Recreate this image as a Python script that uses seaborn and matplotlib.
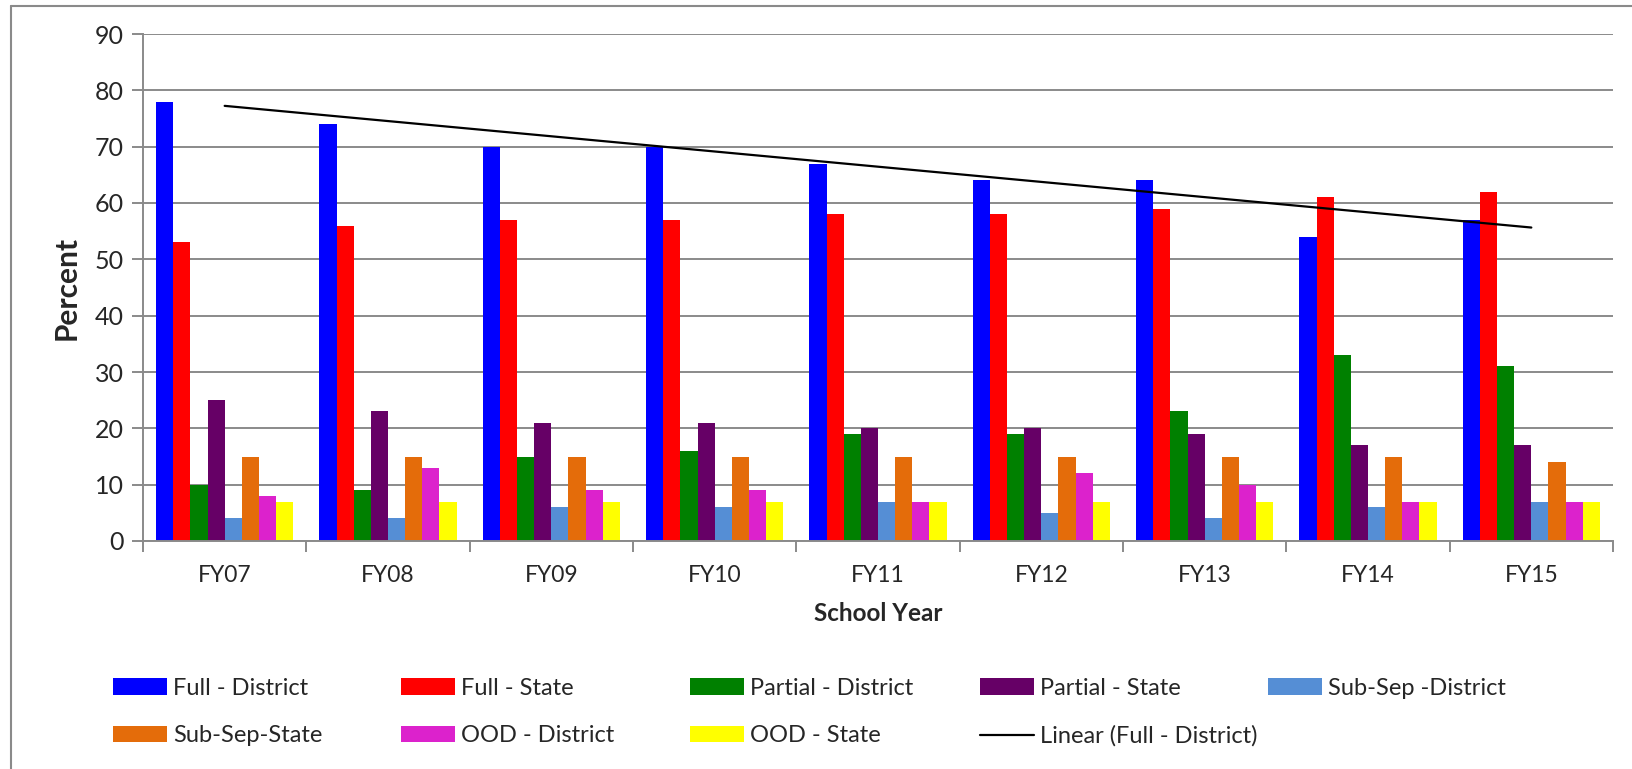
import matplotlib
matplotlib.use("Agg")
import matplotlib.pyplot as plt
import matplotlib.lines as mlines
import seaborn as sns
import numpy as np
import pandas as pd

years = ["FY07", "FY08", "FY09", "FY10", "FY11", "FY12", "FY13", "FY14", "FY15"]
full_district = [78, 74, 70, 70, 67, 64, 64, 54, 57]
full_state = [53, 56, 57, 57, 58, 58, 59, 61, 62]
partial_district = [10, 9, 15, 16, 19, 19, 23, 33, 31]
partial_state = [25, 23, 21, 21, 20, 20, 19, 17, 17]
subsep_district = [4, 4, 6, 6, 7, 5, 4, 6, 7]
subsep_state = [15, 15, 15, 15, 15, 15, 15, 15, 14]
ood_district = [8, 13, 9, 9, 7, 12, 10, 7, 7]
ood_state = [7, 7, 7, 7, 7, 7, 7, 7, 7]

series_names = ["Full - District", "Full - State", "Partial - District", "Partial - State",
                "Sub-Sep -District", "Sub-Sep-State", "OOD - District", "OOD - State"]
series_vals = [full_district, full_state, partial_district, partial_state,
               subsep_district, subsep_state, ood_district, ood_state]
colors = ["#0000FF", "#FF0000", "#008000", "#660066", "#558ED5", "#E46C0A", "#DC22CC", "#FFFF00"]

rows = []
for nm, vals in zip(series_names, series_vals):
    for yr, v in zip(years, vals):
        rows.append({"year": yr, "series": nm, "pct": v})
df = pd.DataFrame(rows)

sns.set_style("white")
plt.rcParams['font.family'] = ['Lato', 'DejaVu Sans']

W, H = 1633, 769
fig = plt.figure(figsize=(W / 100, H / 100), dpi=100)
ax = fig.add_axes([143 / W, 1 - 541 / H, (1613 - 143) / W, (541 - 34) / H])

grid_c = "#8a8a8a"
ax.set_axisbelow(True)
ax.yaxis.grid(True, color=grid_c, lw=1.4)
sns.barplot(data=df, x="year", y="pct", hue="series", hue_order=series_names,
            palette=colors, width=0.84, gap=0, saturation=1, linewidth=0, ax=ax)

# linear trendline of Full - District
xs = np.arange(len(years))
coef = np.polyfit(xs, full_district, 1)
ax.plot(xs, np.polyval(coef, xs), color="black", lw=1.6, label="Linear (Full - District)", zorder=5)

ax.set_ylim(0, 90)
ax.set_xlim(-0.5, len(years) - 0.5)
ax.set_yticks(range(0, 91, 10))
ax.set_xticks(np.arange(-0.5, len(years), 1), minor=True)
ax.tick_params(axis="x", which="major", length=0, pad=17, labelsize=16.5)
ax.tick_params(axis="x", which="minor", length=8, color=grid_c, width=1.4, direction="out")
ax.tick_params(axis="y", length=8, color=grid_c, width=1.4, direction="out", pad=6, labelsize=18)
ax.tick_params(bottom=True, left=True, which="both")
for s in ["top", "right"]:
    ax.spines[s].set_visible(False)
for s in ["left", "bottom"]:
    ax.spines[s].set_color(grid_c)
    ax.spines[s].set_linewidth(1.4)
ax.set_xlabel("School Year", fontsize=17.5, fontweight="bold", labelpad=12)
ax.set_ylabel("Percent", fontsize=21.5, fontweight="bold", labelpad=10)

handles, labels = ax.get_legend_handles_labels()
ax.get_legend().remove()
hmap = dict(zip(labels, handles))
order = series_names + ["Linear (Full - District)"]
cols_x = [113, 401, 690, 980, 1268]
for c, x0 in enumerate(cols_x):
    items = [order[c]] + ([order[c + 5]] if c + 5 < len(order) else [])
    fig.legend([hmap[i] for i in items], items, loc="upper left",
               bbox_to_anchor=(x0 / W, 1 - 678 / H), frameon=False, fontsize=17,
               handlelength=2.3, handleheight=0.7, handletextpad=0.25,
               labelspacing=1.12, borderpad=0, borderaxespad=0)

# outer chart border (left and top visible)
fig.add_artist(mlines.Line2D([11 / W, 11 / W], [0, 1 - 6 / H], color="#8a8a8a", lw=1.5))
fig.add_artist(mlines.Line2D([11 / W, 1], [1 - 6 / H, 1 - 6 / H], color="#8a8a8a", lw=1.5))

fig.savefig("out.png", dpi=100)
